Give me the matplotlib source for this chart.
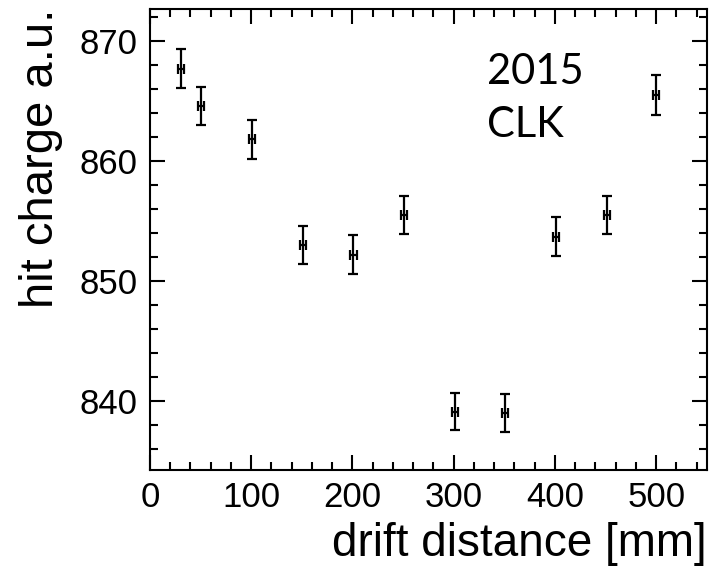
import numpy as np
import matplotlib.pyplot as plt
from matplotlib.ticker import MultipleLocator

# drift distance [mm] and mean hit charge with errors
distance = [31, 50, 101, 151, 201, 251, 301, 351, 401, 451, 500]
charge = [867.7, 864.6, 861.8, 853.0, 852.2, 855.5, 839.1, 839.0, 853.7, 855.5, 865.5]
charge_err = [1.65, 1.6, 1.65, 1.6, 1.6, 1.6, 1.55, 1.55, 1.6, 1.6, 1.65]
distance_err = [3, 3, 3, 3, 3, 3, 3, 3, 3, 3, 3]

plt.rcParams['font.family'] = ['Liberation Sans', 'DejaVu Sans']

fig = plt.figure(figsize=(7.14, 5.73), dpi=100)
ax = fig.add_axes([0.210, 0.1798, 0.780, 0.8045])

ax.errorbar(distance, charge, yerr=charge_err, xerr=distance_err,
            fmt='none', ecolor='black', elinewidth=1.6, capsize=3.6,
            capthick=1.6)

ax.set_xlim(0, 550)
ax.set_ylim(834.25, 872.67)

ax.xaxis.set_major_locator(MultipleLocator(100))
ax.xaxis.set_minor_locator(MultipleLocator(20))
ax.yaxis.set_major_locator(MultipleLocator(10))
ax.yaxis.set_minor_locator(MultipleLocator(2))

ax.tick_params(which='both', direction='in', top=True, right=True,
               width=1.5, labelsize=25)
ax.tick_params(which='major', length=11)
ax.tick_params(which='minor', length=5.5)
ax.tick_params(axis='x', pad=8)
ax.tick_params(axis='y', pad=9)

for s in ax.spines.values():
    s.set_linewidth(1.5)

ax.set_xlabel('drift distance [mm]', fontsize=33, loc='right', labelpad=6)
ax.set_ylabel('hit charge a.u.', fontsize=34, loc='top', labelpad=12)

ax.text(0.605, 0.905, '2015\nCLK', transform=ax.transAxes, fontsize=30,
        family=['Lato', 'DejaVu Sans'], va='top', ha='left', linespacing=1.5)

fig.savefig('out.png', dpi=100)
